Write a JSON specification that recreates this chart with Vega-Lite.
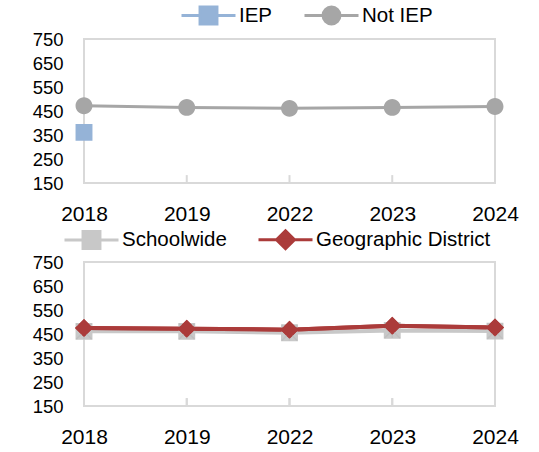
{
  "$schema": "https://vega.github.io/schema/vega-lite/v6.json",
  "padding": {"top": 4, "left": 31, "right": 5, "bottom": 0},
  "background": "white",
  "spacing": 3,
  "resolve": {"scale": {"color": "independent", "stroke": "independent", "shape": "independent"}, "legend": {"color": "independent", "stroke": "independent", "shape": "independent"}},
  "config": {
    "font": "Liberation Sans",
    "view": {"stroke": "#d9d9d9", "strokeWidth": 2},
    "axis": {"labelFont": "Liberation Sans", "labelColor": "#000000", "title": null, "grid": false, "domain": false},
    "legend": {"labelFont": "Liberation Sans", "labelColor": "#000000", "labelLimit": 0}
  },
  "vconcat": [
    {
      "width": 411,
      "height": 144,
      "data": {"values": [
        {"year": "2018", "series": "IEP", "score": 361},
        {"year": "2018", "series": "Not IEP", "score": 472},
        {"year": "2019", "series": "Not IEP", "score": 465},
        {"year": "2022", "series": "Not IEP", "score": 461},
        {"year": "2023", "series": "Not IEP", "score": 465},
        {"year": "2024", "series": "Not IEP", "score": 469}
      ]},
      "encoding": {
        "x": {"field": "year", "type": "ordinal", "scale": {"type": "point", "padding": 0},
              "axis": {"labelAngle": 0, "labelFontSize": 21, "ticks": false, "labelPadding": 20}},
        "y": {"field": "score", "type": "quantitative", "scale": {"domain": [150, 750], "nice": false, "zero": false},
              "axis": {"values": [150, 250, 350, 450, 550, 650, 750], "labelFontSize": 18.5, "ticks": false, "labelPadding": 21}}
      },
      "layer": [
        {
          "mark": {"type": "rule", "color": "#d9d9d9", "strokeWidth": 2},
          "encoding": {"y": {"datum": 150}, "y2": {"datum": 183}}
        },
        {
          "mark": {"type": "line", "strokeWidth": 3},
          "encoding": {
            "color": {"field": "series", "type": "nominal", "scale": {"domain": ["IEP", "Not IEP"], "range": ["#95b3d7", "#a6a6a6"]}}
          }
        },
        {
          "mark": {"type": "point", "filled": true, "size": 324, "opacity": 1},
          "encoding": {
            "color": {"field": "series", "type": "nominal", "scale": {"domain": ["IEP", "Not IEP"], "range": ["#95b3d7", "#a6a6a6"]},
                      "legend": {"orient": "none", "legendX": 114, "legendY": -34, "direction": "horizontal", "title": null, "labelFontSize": 20.5, "symbolSize": 324, "symbolStrokeWidth": 3, "labelOffset": 20, "columnPadding": 25}},
            "stroke": {"field": "series", "type": "nominal", "scale": {"domain": ["IEP", "Not IEP"], "range": ["#95b3d7", "#a6a6a6"]},
                      "legend": {"orient": "none", "legendX": 114, "legendY": -34, "direction": "horizontal", "title": null, "labelFontSize": 20.5, "symbolSize": 324, "symbolStrokeWidth": 3, "labelOffset": 20, "columnPadding": 25}},
            "shape": {"field": "series", "type": "nominal", "scale": {"domain": ["IEP", "Not IEP"], "range": [
                        "M-3,0H3M-0.94,-0.94H0.94V0.94H-0.94Z",
                        "M-3,0H3M-0.94,0A0.94,0.94 0 1,0 0.94,0A0.94,0.94 0 1,0 -0.94,0Z"]},
                      "legend": {"orient": "none", "legendX": 114, "legendY": -34, "direction": "horizontal", "title": null, "labelFontSize": 20.5, "symbolSize": 324, "symbolStrokeWidth": 3, "labelOffset": 20, "columnPadding": 25}},
            "strokeWidth": {"value": 0}
          }
        }
      ]
    },
    {
      "width": 411,
      "height": 144,
      "data": {"values": [
        {"year": "2018", "series": "Schoolwide", "score": 461},
        {"year": "2019", "series": "Schoolwide", "score": 461},
        {"year": "2022", "series": "Schoolwide", "score": 455},
        {"year": "2023", "series": "Schoolwide", "score": 465},
        {"year": "2024", "series": "Schoolwide", "score": 462},
        {"year": "2018", "series": "Geographic District", "score": 475},
        {"year": "2019", "series": "Geographic District", "score": 472},
        {"year": "2022", "series": "Geographic District", "score": 468},
        {"year": "2023", "series": "Geographic District", "score": 484},
        {"year": "2024", "series": "Geographic District", "score": 477}
      ]},
      "encoding": {
        "x": {"field": "year", "type": "ordinal", "scale": {"type": "point", "padding": 0},
              "axis": {"labelAngle": 0, "labelFontSize": 21, "ticks": false, "labelPadding": 20}},
        "y": {"field": "score", "type": "quantitative", "scale": {"domain": [150, 750], "nice": false, "zero": false},
              "axis": {"values": [150, 250, 350, 450, 550, 650, 750], "labelFontSize": 18.5, "ticks": false, "labelPadding": 21}}
      },
      "layer": [
        {
          "mark": {"type": "rule", "color": "#d9d9d9", "strokeWidth": 2},
          "encoding": {"y": {"datum": 150}, "y2": {"datum": 183}}
        },
        {
          "mark": {"type": "line", "strokeWidth": 4},
          "encoding": {
            "color": {"field": "series", "type": "nominal", "scale": {"domain": ["Schoolwide", "Geographic District"], "range": ["#c8c8c8", "#ab3b3a"]}}
          }
        },
        {
          "mark": {"type": "point", "filled": true, "size": 324, "opacity": 1},
          "encoding": {
            "color": {"field": "series", "type": "nominal", "scale": {"domain": ["Schoolwide", "Geographic District"], "range": ["#d9d9d9", "#ab3b3a"]},
                      "legend": {"orient": "none", "legendX": -3, "legendY": -33, "direction": "horizontal", "title": null, "labelFontSize": 20.5, "symbolSize": 324, "symbolStrokeWidth": 3, "labelOffset": 20, "columnPadding": 25}},
            "stroke": {"field": "series", "type": "nominal", "scale": {"domain": ["Schoolwide", "Geographic District"], "range": ["#d0d0d0", "#ab3b3a"]},
                      "legend": {"orient": "none", "legendX": -3, "legendY": -33, "direction": "horizontal", "title": null, "labelFontSize": 20.5, "symbolSize": 324, "symbolStrokeWidth": 3, "labelOffset": 20, "columnPadding": 25}},
            "shape": {"field": "series", "type": "nominal", "scale": {"domain": ["Schoolwide", "Geographic District"], "range": [
                        "M-3,0H3M-0.94,-0.94H0.94V0.94H-0.94Z",
                        "M-3,0H3M0,-1L1,0L0,1L-1,0Z"]},
                      "legend": {"orient": "none", "legendX": -3, "legendY": -33, "direction": "horizontal", "title": null, "labelFontSize": 20.5, "symbolSize": 324, "symbolStrokeWidth": 3, "labelOffset": 20, "columnPadding": 25}},
            "strokeWidth": {"value": 0}
          }
        },
        {
          "transform": [{"filter": "datum.series === 'Schoolwide'"}],
          "mark": {"type": "point", "filled": false, "size": 324, "shape": "M-0.85,-0.85L0.85,0.85M-0.85,0.85L0.85,-0.85M0,-0.85V0.85", "stroke": "#bfbfbf", "strokeWidth": 1.5, "opacity": 1}
        },
        {
          "transform": [{"filter": "datum.series === 'Geographic District'"}],
          "mark": {"type": "line", "strokeWidth": 4, "color": "#ab3b3a"}
        },
        {
          "transform": [{"filter": "datum.series === 'Geographic District'"}],
          "mark": {"type": "point", "filled": true, "size": 324, "shape": "M0,-1L1,0L0,1L-1,0Z", "color": "#ab3b3a", "strokeWidth": 0, "opacity": 1}
        }
      ]
    }
  ]
}
